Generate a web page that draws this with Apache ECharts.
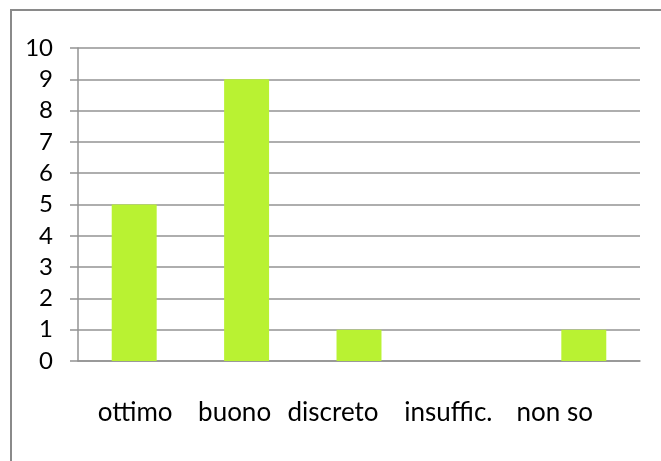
<!DOCTYPE html>
<html>
<head>
<meta charset="utf-8">
<script src="https://cdn.jsdelivr.net/npm/echarts@6/dist/echarts.min.js"></script>
<style>
  html, body { margin: 0; padding: 0; background: #ffffff; }
  #chart { width: 661px; height: 461px; }
</style>
</head>
<body>
<div id="chart"></div>
<script>
// Survey answers and how many people gave each one
const categories = ['ottimo', 'buono', 'discreto', 'insuffic.', 'non so'];
const counts = [5, 9, 1, 0, 1];
const yTicks = [0, 1, 2, 3, 4, 5, 6, 7, 8, 9, 10];

// Horizontal nudge (px, negative = left) for each category caption
const labelNudge = [1, -12, -26, -23, -29];

const FONT = 'Lato';
const GRID_GRAY = '#939393';

const rich = {};
categories.forEach((c, i) => {
  const n = labelNudge[i];
  rich['c' + i] = {
    fontFamily: FONT,
    fontSize: 26,
    color: '#000000',
    padding: n < 0 ? [0, -2 * n, 0, 0] : [0, 0, 0, 2 * n]
  };
});

const chart = echarts.init(document.getElementById('chart'), null, { renderer: 'canvas' });
chart.setOption({
  backgroundColor: '#ffffff',
  animation: false,
  graphic: [{
    type: 'rect',
    shape: { x: 11, y: 10, width: 720, height: 520 },
    style: { fill: 'none', stroke: '#8a8a8a', lineWidth: 2 },
    silent: true
  }],
  grid: { left: 78, right: 21, top: 48, bottom: 100, containLabel: false },
  xAxis: {
    type: 'category',
    data: categories,
    axisLine: { show: true, lineStyle: { color: GRID_GRAY, width: 1.5 } },
    axisTick: { show: false },
    axisLabel: {
      margin: 39,
      formatter: (v, i) => '{c' + i + '|' + v + '}',
      rich: rich
    }
  },
  yAxis: {
    type: 'value',
    min: yTicks[0],
    max: yTicks[yTicks.length - 1],
    interval: 1,
    axisLine: { show: true, lineStyle: { color: GRID_GRAY, width: 1.5 } },
    axisTick: { show: true, length: 8, lineStyle: { color: GRID_GRAY, width: 1.5 } },
    splitLine: { show: true, lineStyle: { color: GRID_GRAY, width: 1.5 } },
    axisLabel: {
      margin: 25,
      fontFamily: FONT,
      fontSize: 24,
      color: '#000000',
      formatter: v => (yTicks.includes(v) ? String(v) : '')
    }
  },
  series: [{
    type: 'bar',
    data: counts,
    barCategoryGap: '60%',
    itemStyle: { color: '#b9f232' },
    silent: true
  }]
});
</script>
</body>
</html>
